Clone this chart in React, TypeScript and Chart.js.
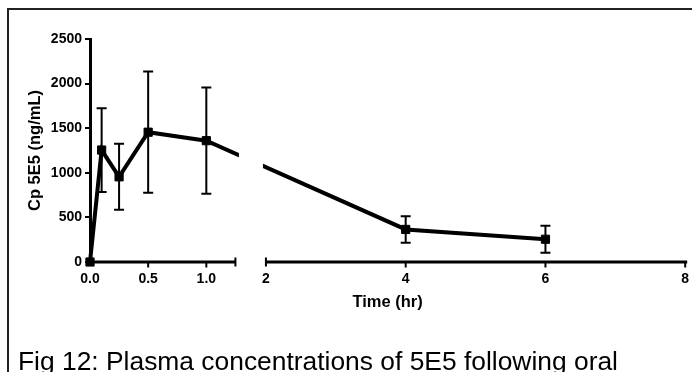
import React, { useEffect, useRef } from 'react';
import { Chart, registerables, LinearScale } from 'chart.js';

// ---- data ----
const TIMES = [0, 0.1, 0.25, 0.5, 1, 4, 6];
const MEAN_CP = [0, 1255, 955, 1455, 1360, 365, 255];
const SD_CP = [0, 470, 370, 680, 595, 148, 150];
const X_TICKS = [0, 0.5, 1, 1.25, 2, 4, 6, 8];
const BREAK_FROM = 1.25;
const BREAK_TO = 2;
const X_MAX = 8;
const Y_MAX = 2500;
const Y_STEP = 500;
const X_TITLE = 'Time (hr)';
const Y_TITLE = 'Cp 5E5 (ng/mL)';
const CAPTION = 'Fig 12: Plasma concentrations of 5E5 following oral';

// ---- layout fractions of the broken axis ----
const SEG1 = 0.2443;
const GAP = 0.0513;
const FONT = '"Liberation Sans", Arial, Helvetica, sans-serif';

class BrokenLinearScale extends LinearScale {
  static id = 'brokenLinear';
  static defaults = LinearScale.defaults;

  buildTicks() {
    super.buildTicks();
    return X_TICKS.map((v) => ({ value: v }));
  }

  getPixelForValue(value: number) {
    const l = this.left;
    const w = this.width;
    const min = this.min;
    const max = this.max;
    if (value <= BREAK_FROM) {
      return l + ((value - min) / (BREAK_FROM - min)) * w * SEG1;
    }
    if (value >= BREAK_TO) {
      return l + w * (SEG1 + GAP) + ((value - BREAK_TO) / (max - BREAK_TO)) * w * (1 - SEG1 - GAP);
    }
    return l + w * SEG1 + ((value - BREAK_FROM) / (BREAK_TO - BREAK_FROM)) * w * GAP;
  }

  getValueForPixel(pixel: number) {
    const f = (pixel - this.left) / this.width;
    if (f <= SEG1) return this.min + (f / SEG1) * (BREAK_FROM - this.min);
    if (f >= SEG1 + GAP) return BREAK_TO + ((f - SEG1 - GAP) / (1 - SEG1 - GAP)) * (this.max - BREAK_TO);
    return BREAK_FROM + ((f - SEG1) / GAP) * (BREAK_TO - BREAK_FROM);
  }
}

Chart.register(...registerables, BrokenLinearScale);

const brokenAxisPlugin = {
  id: 'brokenAxis',
  beforeDatasetsDraw(chart: any) {
    const { ctx, chartArea } = chart;
    const xs = chart.scales.x;
    const y = chartArea.bottom;
    const p1 = xs.getPixelForValue(BREAK_FROM);
    const p2 = xs.getPixelForValue(BREAK_TO);
    ctx.save();
    ctx.strokeStyle = '#000';
    ctx.lineWidth = 3;
    ctx.lineCap = 'butt';
    ctx.beginPath();
    ctx.moveTo(chartArea.left - 1.5, y);
    ctx.lineTo(p1, y);
    ctx.moveTo(p2, y);
    ctx.lineTo(chartArea.right + 2, y);
    ctx.stroke();
    // ticks
    ctx.lineWidth = 2;
    ctx.beginPath();
    xs.ticks.forEach((t: any) => {
      if (t.value === 0) return;
      const px = xs.getPixelForValue(t.value);
      if (t.value === BREAK_FROM || t.value === BREAK_TO) {
        ctx.moveTo(px, y - 4.5);
        ctx.lineTo(px, y + 4.5);
      } else {
        ctx.moveTo(px, y);
        ctx.lineTo(px, y + 5.5);
      }
    });
    ctx.stroke();
    ctx.restore();
    // clip the data line at the axis break
    ctx.save();
    ctx.beginPath();
    ctx.rect(0, 0, p1 + 3.5, chart.height);
    ctx.rect(p2 - 3, 0, chart.width - (p2 - 3), chart.height);
    ctx.clip();
  },
  afterDatasetsDraw(chart: any) {
    const { ctx } = chart;
    ctx.restore();
    // error bars
    const xs = chart.scales.x;
    const ys = chart.scales.y;
    ctx.save();
    ctx.strokeStyle = '#000';
    ctx.lineWidth = 2;
    ctx.beginPath();
    TIMES.forEach((t, i) => {
      const sd = SD_CP[i];
      if (!sd) return;
      const px = xs.getPixelForValue(t);
      const top = ys.getPixelForValue(MEAN_CP[i] + sd);
      const bot = ys.getPixelForValue(MEAN_CP[i] - sd);
      ctx.moveTo(px, top);
      ctx.lineTo(px, bot);
      ctx.moveTo(px - 5, top);
      ctx.lineTo(px + 5, top);
      ctx.moveTo(px - 5, bot);
      ctx.lineTo(px + 5, bot);
    });
    ctx.stroke();
    ctx.restore();
  },
};

export default function App() {
  const canvasRef = useRef<HTMLCanvasElement | null>(null);

  useEffect(() => {
    const canvas = canvasRef.current;
    if (!canvas) return;
    const chart = new Chart(canvas, {
      type: 'line',
      data: {
        datasets: [
          {
            label: 'Cp 5E5',
            data: TIMES.map((t, i) => ({ x: t, y: MEAN_CP[i] })),
            borderColor: '#000',
            backgroundColor: '#000',
            borderWidth: 4,
            tension: 0,
            pointStyle: 'rect',
            pointRadius: 5.8,
            pointBorderWidth: 1,
            pointBackgroundColor: '#000',
            pointBorderColor: '#000',
            clip: false,
            fill: false,
          },
        ],
      },
      options: {
        responsive: false,
        animation: false,
        devicePixelRatio: 1,
        events: [],
        layout: { padding: { left: 0, top: 39, right: 1, bottom: 0 } },
        plugins: {
          legend: { display: false },
          tooltip: { enabled: false },
          title: { display: false },
        },
        scales: {
          x: {
            type: 'brokenLinear' as any,
            min: 0,
            max: X_MAX,
            grid: { display: false, drawTicks: false },
            border: { display: false },
            ticks: {
              autoSkip: false,
              maxRotation: 0,
              minRotation: 0,
              padding: 9,
              color: '#000',
              font: { family: FONT, size: 14, weight: 'bold' },
              callback: (value: any) => {
                const v = Number(value);
                if (v === BREAK_FROM) return '';
                return v < BREAK_TO ? v.toFixed(1) : String(v);
              },
            },
            title: {
              display: true,
              text: X_TITLE,
              color: '#000',
              font: { family: FONT, size: 16.5, weight: 'bold' },
              padding: { top: 0, bottom: 59.6 },
            },
            afterFit: (scale: any) => {
              scale.height = 110;
              scale.paddingLeft = 0;
              scale.paddingRight = 0;
            },
          },
          y: {
            type: 'linear',
            min: 0,
            max: Y_MAX,
            grid: {
              display: true,
              drawOnChartArea: false,
              drawTicks: true,
              tickLength: 5,
              lineWidth: 2,
              color: '#000',
            },
            border: { display: true, width: 3, color: '#000' },
            ticks: {
              stepSize: Y_STEP,
              padding: 3,
              color: '#000',
              font: { family: FONT, size: 14, weight: 'bold' },
              callback: (value: any) => String(value),
            },
            title: {
              display: true,
              text: Y_TITLE,
              color: '#000',
              font: { family: FONT, size: 16.5, weight: 'bold' },
              padding: { top: 26, bottom: 0 },
            },
            afterFit: (scale: any) => {
              scale.width = 90;
            },
          },
        },
      },
      plugins: [brokenAxisPlugin],
    });
    return () => chart.destroy();
  }, []);

  return (
    <div
      style={{
        position: 'fixed',
        left: 0,
        top: 0,
        width: 692,
        height: 372,
        overflow: 'hidden',
        background: '#fff',
      }}
    >
      <div
        style={{
          position: 'absolute',
          left: 7,
          top: 8,
          width: 800,
          height: 500,
          borderTop: '2px solid #222',
          borderLeft: '2px solid #222',
        }}
      />
      <canvas
        ref={canvasRef}
        width={692}
        height={372}
        style={{ position: 'absolute', left: 0, top: 0, width: 692, height: 372 }}
      />
      <div
        style={{
          position: 'absolute',
          left: 18,
          top: 347.7,
          fontFamily: FONT,
          fontSize: 26.4,
          lineHeight: 1,
          color: '#000',
          whiteSpace: 'nowrap',
        }}
      >
        {CAPTION}
      </div>
    </div>
  );
}
